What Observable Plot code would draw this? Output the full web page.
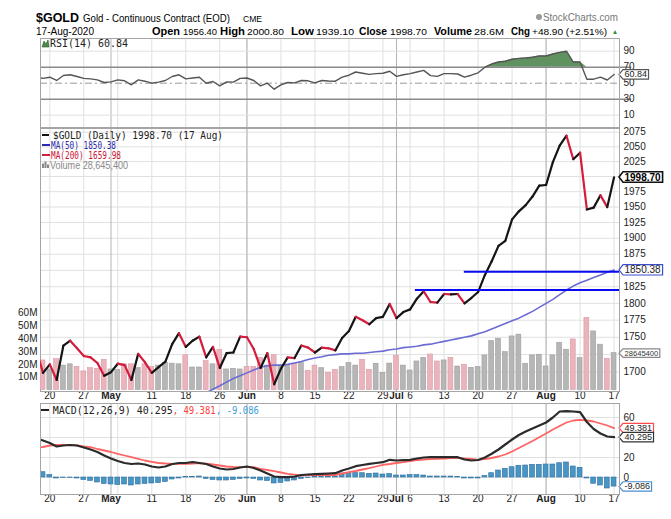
<!DOCTYPE html>
<html><head><meta charset="utf-8">
<script src="https://cdn.jsdelivr.net/npm/d3@7"></script>
<script src="https://cdn.jsdelivr.net/npm/@observablehq/plot@0.6"></script>
<style>
html,body{margin:0;padding:0;background:#fff;}
#c{position:relative;width:671px;height:519px;overflow:hidden;background:#fff;}
</style></head><body><div id="c"></div>
<script>
// ---- data (first entry = 16 Apr, just off the left edge; then 17 Apr .. 17 Aug 2020) ----
const closes = [1731.7,
 1699,1711,1689,1738,1745,1734,
 1723,1721,1713,1695,1700,
 1712,1710,1689,1726,1714,
 1699,1707,1715,1740,1756,
 1736,1745,1751,1721,1736,
 1706,1727,1728,1751,
 1750,1733,1706,1727,1683,
 1705,1721,1720,1738,1735,
 1728,1735,1734,1731,1749,
 1759,1780,1775,1769,1778,
 1780,1799,1778,1787,
 1791,1807,1818,1802,1801,
 1814,1813.5,1814,1800,1808,
 1817,1843,1864,1888,1896,
 1930,1943,1953,1967,1985,
 1986,2024,2052,2069,2029,
 2040,1946,1949,1969,1949.8,
 1998.7];
const volumesM = [22,
 23,16,24,19,20,18,
 14.5,17,16.5,23.5,16,
 15.5,20,20,17,20,
 18,19,21,20.5,20,
 27,17.5,17.5,22.5,20,
 31,16,16.5,16,
 18,18,25,19,27,
 19,19,20.5,21,15,
 19,17,13.5,15.7,17.8,
 21,19,23.5,15.7,20.4,
 13.4,20.6,26.3,19,
 15.2,22.2,25,27.6,22.2,
 23,25,18.3,19.6,17.3,
 18,26.9,38,39.8,29.4,
 41.6,43,20.4,26.9,27.4,
 18.3,26.9,36.7,31.3,39.3,
 24.8,56,45.5,35.2,24.3,
 28.6454];
const ma50Start = 22; // trading-day index of first MA(50) value listed
const ma50 = [1661,1666,1671,1676,1681,1686,1691,1695,1699,1703,1707,1709,1710,1710,1711,1713,1715,1718,1720,1722,1724,1725,1726,1726,1727,1727,1728,1729,1730,1732,1733,1735,1736,1737,1739,1740,1742,1744,1746,1748,1750,1752,1755,1758,1762,1766,1770,1774,1778,1783,1788,1794,1800,1806,1813,1820,1826,1831,1835,1839,1843,1847,1850.38];
const rsi = [58,56,57.5,53.4,59.6,60.5,58.4,56,55.4,54.2,50.9,51.7,54.2,53,48,54.2,52.5,50,51.3,53.4,58.4,60.5,55.4,56.5,57.5,50,52.1,46.7,51.7,51.3,56,56.5,53.4,46.7,50,42.5,48,50.9,50.4,53.4,53,50.5,53.4,52.8,52.5,57.5,60,64,62.5,61,62,62.5,65,58.5,60.5,62,64,66,59.5,58.5,62,62,61.5,57.5,60,63,70,74,76.5,77.5,80,81,81.5,82.5,84,84,86.5,88.5,90,76.5,76.5,55,55,57.5,54,60.84];
const macd = [39,37,34.5,31,32,32.5,32,30,28,25.5,22,19,16.5,14.5,13.5,14,13,11,10,11,13.5,14.5,14.5,15.5,14.5,13.5,11,9,8,8.5,10,11,9.5,7,4,1,0.3,0.3,1,2.5,3,3.3,3.6,4,4.3,7,9,11.3,12.5,13.7,14.5,15.3,17.7,17,17.3,17.7,19,20,20.3,20.3,20.3,20.3,20.3,18,17,17.5,20,23.7,28,33,38,42.5,46,49,52,55,60,66,66.3,66,65.3,55.5,48.5,44,41,40.295];
const signal = [30,30.5,32,32.5,32.7,32.7,32,31,30.3,28.5,27,25.5,23.7,22,20.3,18.7,17,15.7,14.5,14,13.7,13.7,13.7,14,14.3,13.8,13,12,11,10.5,10.3,10.3,10.3,8.7,7.5,6.3,5,3.7,2.8,2,2.3,2.5,2.5,2.5,2.5,4,5.3,6.5,8,9.3,11,12.7,13.5,14.5,15.3,16.5,17.5,18,18.3,18.7,19,19.3,19.7,19,18.5,17.7,18.5,19.5,21,23,26,29.5,33,36.5,40.3,44,48,51.5,55,57,57.7,57,56,54,52,49.381];
const hist = [6,5.3,2.5,-1,-0.5,-0.5,-1,-2.5,-3.5,-5,-6.5,-7,-7.5,-7,-8,-7,-6.5,-6,-5.5,-4.5,-2,-1,0.5,0.5,1,-1.5,-2.5,-3,-3,-2.5,-1.5,-1,-1.5,-3,-3.5,-6,-5.5,-4,-3,-1.5,-0.5,0.5,0.5,0.5,1,4,4.5,4.5,4.3,3.7,4,3,3.5,2,2,2.5,2.5,2,1,1,1,1,0.5,-1,-1,-1,1.5,4.3,7,8.7,10.3,11.7,12,12.7,12.7,13,13,14.3,15,11,9.7,-1,-6.3,-8,-11,-9.086];
const trendStart = [54.7, 61.9];
const trendLevel = [1820, 1848];
const tickIdx  = [1,6,10,16,21,26,30,35,40,45,50,52,54,59,64,69,74,79,84];
const tickText = ["20","27","May","11","18","26","Jun","8","15","22","29","Jul","6","13","20","27","Aug","10","17"];
const monthNames = ["May","Jun","Jul","Aug"];
const weekIdx  = [1,6,11,16,21,26,30,35,40,45,50,54,59,64,69,74,79,84];
const monthIdx = [10,30,52,74];
const priceTicks = [1700,1725,1750,1775,1800,1825,1850,1875,1900,1925,1950,1975,2000,2025,2050,2075];
const priceLabels = [1700,1750,1775,1800,1825,1875,1900,1925,1950,1975,2025,2050,2075]; // 1725, 1850, 2000 sit under value tags
const volTicks = [10,20,30,40,50,60];
const rsiTicks = [10,30,50,70,90];
const macdTicks = [0,20,40,60];
const macdLabels = [0,20,60]; // 40 sits under value tags

// ---- derived tables ----
const rows = closes.map((c,k)=>({x:k-1, close:c, vol:volumesM[k]*1e6, rsi:rsi[k], macd:macd[k], signal:signal[k], hist:hist[k], down: k>0 && c<closes[k-1]}));
const segs = rows.slice(1).map((r,j)=>({x1:rows[j].x, y1:rows[j].close, x2:r.x, y2:r.close, down:r.down}));
const maRows = ma50.map((v,j)=>({x:ma50Start+j, v}));
const trends = trendStart.map((s,j)=>({x1:s, v:trendLevel[j]}));
const ticks = tickIdx.map((i,j)=>({i, t:tickText[j], m: monthNames.includes(tickText[j])}));
const last = rows[rows.length-1];
const lastMA = maRows[maRows.length-1];

const X0=-0.37, X1=84.8;
const SANS="Liberation Sans, Arial, sans-serif", MONO="DejaVu Sans Mono, monospace";
const ST={background:"transparent", overflow:"visible", fontFamily:SANS, fontSize:"10px"};
const W=671, ML=40, MR=52;
const c=document.getElementById("c");
function place(svg, top){svg.style.position="absolute";svg.style.left="0px";svg.style.top=top+"px";c.appendChild(svg);return svg;}
function boxTags(svg){
  svg.querySelectorAll('g[aria-description^="tag"]').forEach(g=>{
    const parts=g.getAttribute("aria-description").split(" ");
    const col=parts[1], sw=+(parts[2]||1.2);
    g.querySelectorAll("text").forEach(t=>{
      const b=t.getBBox();
      const L=b.x-1.5,R=b.x+b.width+1.5,T=b.y+0.3,B=b.y+b.height-0.3,M=(T+B)/2;
      const p=document.createElementNS("http://www.w3.org/2000/svg","path");
      p.setAttribute("d",`M${L-4},${M}L${L},${T}H${R}V${B}H${L}Z`);
      p.setAttribute("fill","#fff");p.setAttribute("stroke",col);p.setAttribute("stroke-width",sw);
      if(t.getAttribute("transform"))p.setAttribute("transform",t.getAttribute("transform"));
      t.parentNode.insertBefore(p,t);
    });
  });
}
const vRule = [Plot.ruleX(weekIdx,{stroke:"#e0e0e0"}), Plot.ruleX(monthIdx,{stroke:"#b3b3b3"})];
const xLabels = [
  Plot.text(ticks.filter(d=>!d.m),{x:"i",text:"t",frameAnchor:"bottom",dy:7,fontSize:10,fill:"#222"}),
  Plot.text(ticks.filter(d=>d.m),{x:"i",text:"t",frameAnchor:"bottom",dy:7,fontSize:10,fontWeight:"bold",fill:"#222"})
];
const rightText=(data,y,fmt)=>Plot.text(data,{x:()=>X1,y,text:fmt,dx:4,textAnchor:"start",fontSize:10,fill:"#222"});
const tag=(y,fmt,desc,o={})=>Plot.text([last],{x:()=>X1,y,text:fmt,dx:5,textAnchor:"start",fontSize:10,fill:"#222",ariaDescription:desc,...o});

// ---- RSI panel ----
const rsiPlot = Plot.plot({width:W,height:89,marginLeft:ML,marginRight:MR,marginTop:0,marginBottom:0,style:ST,
  x:{domain:[X0,X1],axis:null}, y:{domain:[-5.4,105.9],axis:null},
  marks:[
    ...vRule,
    Plot.ruleY([10,90],{stroke:"#e0e0e0"}),
    Plot.ruleY([50],{stroke:"#9a9a9a",strokeDasharray:"7,3,2,3"}),
    Plot.area(rows,{x1:"x",y1:()=>70,y2:d=>Math.max(70,d.rsi),fill:"#5f925f",clip:true}),
    Plot.ruleY([70,30],{x1:()=>X0,x2:()=>X1+1.8,stroke:"#8a8a8a",strokeWidth:1.4}),
    Plot.line(rows,{x:"x",y:"rsi",stroke:"#555",strokeWidth:1.4,clip:true}),
    rightText(rsiTicks,d=>d,d=>String(d)),
    tag("rsi",d=>d.rsi.toFixed(2),"tag #555",{fontSize:9}),
    Plot.frame({stroke:"#a5a5a5"})
  ]});
place(rsiPlot,38);

// ---- main panel: grid layer ----
const yPrice={type:"log",domain:[1672.9,2081.4],axis:null};
const gridPlot = Plot.plot({width:W,height:277,marginLeft:ML,marginRight:MR,marginTop:0,marginBottom:14,style:ST,
  x:{domain:[X0,X1],axis:null}, y:yPrice,
  marks:[
    Plot.ruleY(priceTicks,{stroke:"#e0e0e0"}),
    ...vRule,
    rightText(priceLabels,d=>d,d=>String(d)),
    ...xLabels,
    Plot.frame({stroke:"#a5a5a5"})
  ]});
place(gridPlot,128);

// ---- main panel: volume layer ----
const volPlot = Plot.plot({width:W,height:277,marginLeft:ML,marginRight:MR,marginTop:0,marginBottom:14,style:ST,
  x:{domain:[X0,X1],axis:null}, y:{domain:[-1.085e6,202.8e6],axis:null},
  marks:[
    Plot.rect(rows,{x1:d=>d.x-0.36,x2:d=>d.x+0.36,y1:()=>0,y2:"vol",fill:d=>d.down?"#ebb4bc":"#b6b6b6",stroke:d=>d.down?"#d99aa4":"#9e9e9e",strokeWidth:0.6,clip:true}),
    Plot.text(volTicks,{x:()=>X0,y:d=>d*1e6,text:d=>d+"M",dx:-3,textAnchor:"end",fontSize:10,fill:"#222"}),
    tag("vol",d=>String(Math.round(d.vol/100)*100),"tag #888",{fontSize:7.6,fill:"#333"})
  ]});
place(volPlot,128);

// ---- main panel: price layer ----
const pricePlot = Plot.plot({width:W,height:277,marginLeft:ML,marginRight:MR,marginTop:0,marginBottom:14,style:ST,
  x:{domain:[X0,X1],axis:null}, y:yPrice,
  marks:[
    Plot.line(maRows,{x:"x",y:"v",stroke:"#6b6bd4",strokeWidth:1.6,clip:true}),
    Plot.link(segs,{x1:"x1",y1:"y1",x2:"x2",y2:"y2",stroke:d=>d.down?"#d41c3c":"#151515",strokeWidth:2.2,strokeLinecap:"round",clip:true}),
    Plot.link(trends,{x1:"x1",x2:()=>X1,y1:"v",y2:"v",stroke:"#0a0af2",strokeWidth:2,clip:true}),
    Plot.text([lastMA],{x:()=>X1,y:"v",text:d=>d.v.toFixed(2),dx:5,textAnchor:"start",fontSize:10,fill:"#222",ariaDescription:"tag #3a4ed0"}),
    tag("close",d=>d.close.toFixed(2),"tag #111 1.6",{fontWeight:"bold",fill:"#000"})
  ]});
place(pricePlot,128);

// ---- MACD panel ----
const macdPlot = Plot.plot({width:W,height:105,marginLeft:ML,marginRight:MR,marginTop:0,marginBottom:14,style:ST,
  x:{domain:[X0,X1],axis:null}, y:{domain:[-17,74],axis:null},
  marks:[
    Plot.ruleY(macdTicks,{stroke:"#e0e0e0"}),
    ...vRule,
    Plot.rect(rows,{x1:d=>d.x-0.36,x2:d=>d.x+0.36,y1:()=>0,y2:"hist",fill:"#4896c6",stroke:"#2f6f9c",strokeWidth:0.6,clip:true}),
    Plot.line(rows,{x:"x",y:"signal",stroke:"#ff6464",strokeWidth:1.8,clip:true}),
    Plot.line(rows,{x:"x",y:"macd",stroke:"#2b2b2b",strokeWidth:2.2,clip:true}),
    rightText(macdLabels,d=>d,d=>String(d)),
    tag("signal",d=>d.signal.toFixed(3),"tag #ff4a4a",{fontSize:9}),
    tag("macd",d=>d.macd.toFixed(3),"tag #333",{fontSize:9}),
    tag("hist",d=>d.hist.toFixed(3),"tag #4a8fd0",{fontSize:9}),
    ...xLabels,
    Plot.frame({stroke:"#a5a5a5"})
  ]});
place(macdPlot,403);

[rsiPlot,volPlot,pricePlot,macdPlot].forEach(boxTags);

// ---- header & legends overlay ----
const ov=d3.create("svg").attr("width",W).attr("height",519).style("position","absolute").style("left","0px").style("top","0px");
function T(s,x,y,w,size,o={}){
  const t=ov.append("text").attr("x",x).attr("y",y).attr("font-size",size).attr("font-family",o.family||SANS)
    .attr("font-weight",o.weight||"normal").attr("fill",o.fill||"#000").text(s);
  if(w) t.attr("textLength",w).attr("lengthAdjust","spacingAndGlyphs");
  return t;
}
T("$GOLD",36,22,43,12.5,{weight:"bold"});
T("Gold - Continuous Contract (EOD)",83,21.5,147,11);
T("CME",243,21.5,19,8.5);
ov.append("circle").attr("cx",539).attr("cy",17).attr("r",3).attr("fill","#999");
T("StockCharts.com",543,21,75,10.5,{fill:"#777"});
T("17-Aug-2020",36,35,58,10);
T("Open",152,35,28,10,{weight:"bold"});
T("1956.40",183,35,34,9.5);
T("High",220,35,25,10,{weight:"bold"});
T("2000.80",247,35,37,9.5);
T("Low",291,35,23,10,{weight:"bold"});
T("1939.10",316,35,38,9.5);
T("Close",359,35,28,10,{weight:"bold"});
T("1998.70",390,35,37,9.5);
T("Volume",434,35,38,10,{weight:"bold"});
T("28.6M",474,35,30,9);
T("Chg",511,35,19,10,{weight:"bold"});
T("+48.90 (+2.51%)",532,35,75,9.5);
T("\u25B2",612,34,6,7,{fill:"#2e8b2e"});
// RSI legend
ov.append("path").attr("d","M42,47L44,41L46,44L48,40L49,47Z").attr("fill","#4d8a4d").attr("stroke","#2d5d2d").attr("stroke-width",0.6);
T("RSI(14) 60.84",50,47,78,10.5,{family:MONO,fill:"#222"});
// main legend
ov.append("line").attr("x1",42).attr("x2",49).attr("y1",135).attr("y2",135).attr("stroke","#111").attr("stroke-width",2);
T("$GOLD (Daily) 1998.70 (17 Aug)",53,138.5,170,10,{family:MONO,fill:"#222"});
ov.append("line").attr("x1",42).attr("x2",50).attr("y1",145).attr("y2",145).attr("stroke","#2a2ab0").attr("stroke-width",2);
T("MA(50) 1850.38",51,148.5,65,10,{family:MONO,fill:"#2a2aa8"});
ov.append("line").attr("x1",42).attr("x2",50).attr("y1",155).attr("y2",155).attr("stroke","#d41c3c").attr("stroke-width",2);
T("MA(200) 1659.98",51,158.5,70,10,{family:MONO,fill:"#cc1133"});
[[42,163.5],[44.5,161.5],[47,164.5]].forEach(([x,y])=>ov.append("rect").attr("x",x).attr("y",y).attr("width",2).attr("height",168-y).attr("fill","#888"));
T("Volume 28,645,400",50,168.5,78,10,{fill:"#888"});
// MACD legend
ov.append("line").attr("x1",41).attr("x2",49).attr("y1",410).attr("y2",410).attr("stroke","#222").attr("stroke-width",2);
T("MACD(12,26,9) 40.295",52.7,413.5,120,10,{family:MONO,fill:"#222"});
T(", 49.381",172.7,413.5,43,10,{family:MONO,fill:"#ff3b3b"});
T(", -9.086",216,413.5,43,10,{family:MONO,fill:"#3ca0d8"});
c.appendChild(ov.node());
</script></body></html>
